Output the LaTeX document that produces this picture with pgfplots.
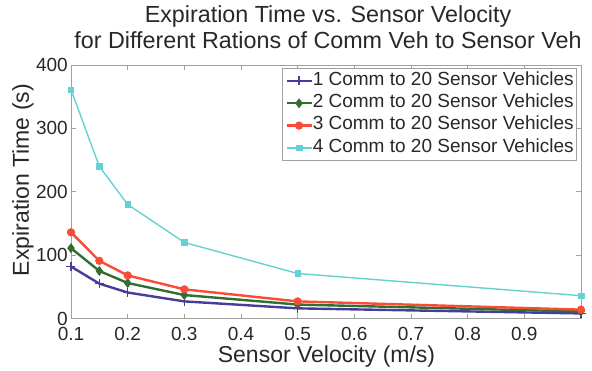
\documentclass[border=0pt]{standalone}
\usepackage{fontspec}
\setmainfont{Liberation Sans}
\usepackage{pgfplots}
\pgfplotsset{compat=1.18}
\definecolor{cblue}{RGB}{70,60,155}
\definecolor{cgreen}{RGB}{50,110,50}
\definecolor{cred}{RGB}{250,75,55}
\definecolor{ccyan}{RGB}{100,210,210}
\definecolor{axgray}{RGB}{160,160,160}
\definecolor{txt}{RGB}{40,40,40}
\begin{document}
\begin{tikzpicture}
\path[use as bounding box] (-71pt,-51.5pt) rectangle (521pt,318.5pt);
\begin{axis}[
  at={(0pt,0pt)}, anchor=south west,
  scale only axis, width=510pt, height=253.5pt,
  xmin=0.1, xmax=1, ymin=0, ymax=400,
  xtick={0.1,0.2,0.3,0.4,0.5,0.6,0.7,0.8,0.9},
  xticklabels={0.1,0.2,0.3,0.4,0.5,0.6,0.7,0.8,0.9},
  ytick={0,100,200,300,400},
  yticklabels={0,100,200,300,400},
  tick align=inside, major tick length=5pt,
  every tick/.style={axgray, line width=0.6pt},
  axis line style={axgray, line width=0.8pt},
  tick label style={font=\fontsize{19}{20}\selectfont, text=txt},
  xticklabel style={anchor=base, inner sep=0pt, yshift=-22pt},
  yticklabel style={anchor=east, inner sep=0pt, xshift=-3pt},
  /pgf/number format/assume math mode=true,
  xlabel={Sensor Velocity (m/s)},
  ylabel={Expiration Time (s)},
  label style={font=\fontsize{23}{26}\selectfont, text=txt, inner sep=0pt},
  xlabel style={at={(axis description cs:0.501,-0.1755)}, anchor=base},
  ylabel style={at={(axis description cs:-0.0824,0.546)}, anchor=base},
  clip=false,
  legend cell align=left,
  legend style={at={(axis description cs:0.992,0.988)}, anchor=north east,
    draw=axgray, line width=0.6pt, fill=white,
    font=\fontsize{19}{21}\selectfont, text=txt,
    inner xsep=3pt, inner ysep=1.5pt, row sep=0pt,
    nodes={inner sep=0pt, text height=15.5pt, text depth=6.8pt}},
  /tikz/every even column/.append style={column sep=2pt},
  legend image code/.code={\draw[mark repeat=2,mark phase=2] plot coordinates {(0pt,0pt) (12.5pt,0pt) (25pt,0pt)};},
]
\addplot[cblue, line width=2.4pt, mark=+, mark size=4.5pt, mark options={line width=1.6pt}]
  coordinates {(0.1,82) (0.15,55) (0.2,41) (0.3,27) (0.5,16) (1.0,8)};
\addlegendentry{1 Comm to 20 Sensor Vehicles}
\addplot[cgreen, line width=2.4pt, mark=diamond*, mark size=4.5pt, mark options={line width=0.6pt}]
  coordinates {(0.1,111) (0.15,75) (0.2,56) (0.3,37) (0.5,22) (1.0,11)};
\addlegendentry{2 Comm to 20 Sensor Vehicles}
\addplot[cred, line width=2.4pt, mark=*, mark size=3.8pt, mark options={line width=0.6pt}]
  coordinates {(0.1,136) (0.15,91) (0.2,68) (0.3,46) (0.5,27) (1.0,14)};
\addlegendentry{3 Comm to 20 Sensor Vehicles}
\addplot[ccyan, line width=1.4pt, mark=square*, mark size=2.8pt, mark options={line width=0.6pt}]
  coordinates {(0.1,361) (0.15,240) (0.2,180) (0.3,120) (0.5,71) (1.0,36)};
\addlegendentry{4 Comm to 20 Sensor Vehicles}
\node[anchor=base, font=\fontsize{23.3}{26}\selectfont, text=txt, inner sep=0pt] at (rel axis cs:0.504,1.1696) {Expiration Time vs. Sensor Velocity};
\node[anchor=base, font=\fontsize{23.3}{26}\selectfont, text=txt, inner sep=0pt] at (rel axis cs:0.504,1.067) {for Different Rations of Comm Veh to Sensor Veh};
\end{axis}
\end{tikzpicture}
\end{document}
